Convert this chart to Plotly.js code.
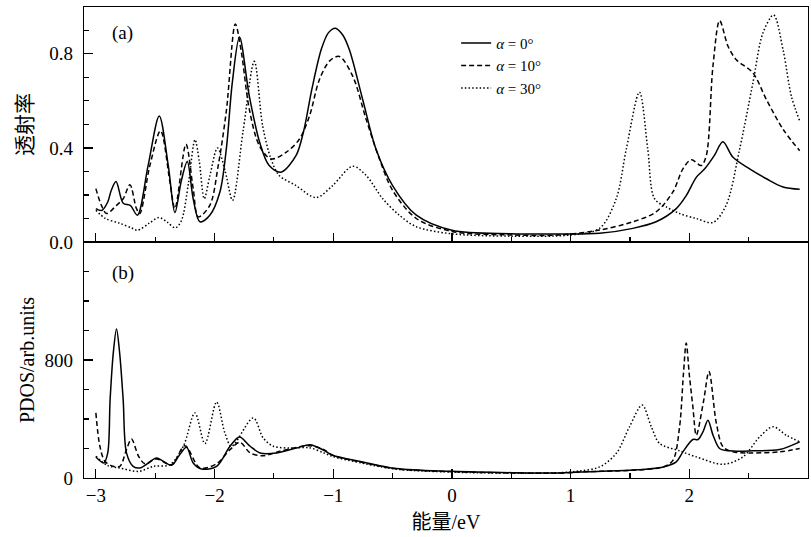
<!DOCTYPE html>
<html>
<head>
<meta charset="utf-8">
<script src="https://cdn.plot.ly/plotly-3.0.1.min.js"></script>
<style>html,body{margin:0;padding:0;background:#fff;}#chart{width:811px;height:537px;}</style>
</head>
<body>
<div id="chart"></div>
<script>
// ---- data ----
const seriesNames = ["<i>α</i> = 0°", "<i>α</i> = 10°", "<i>α</i> = 30°"];
const panelLabels = ["(a)", "(b)"];
const xTitle = "能量/eV";
const yTitleTop = "透射率";
const yTitleBottom = "PDOS/arb.units";

// (a) transmission, alpha = 0
const topE0 = [-3.00,-2.95,-2.90,-2.87,-2.83,-2.77,-2.71,-2.65,-2.56,-2.466,-2.39,-2.334,-2.28,-2.23,-2.18,-2.123,-2.04,-1.955,-1.90,-1.85,-1.79,-1.707,-1.62,-1.54,-1.44,-1.314,-1.25,-1.18,-1.10,-1.04,-0.982,-0.92,-0.864,-0.752,-0.64,-0.50,-0.30,0.00,0.50,0.90,1.244,1.524,1.72,1.89,1.975,2.06,2.13,2.21,2.283,2.368,2.508,2.65,2.79,2.93];
const topT0 = [0.142,0.134,0.17,0.22,0.257,0.165,0.156,0.114,0.325,0.536,0.325,0.125,0.26,0.342,0.184,0.086,0.114,0.213,0.40,0.68,0.871,0.62,0.424,0.325,0.297,0.367,0.47,0.65,0.82,0.89,0.909,0.88,0.817,0.606,0.395,0.24,0.114,0.05,0.035,0.034,0.037,0.058,0.086,0.142,0.198,0.276,0.311,0.367,0.426,0.36,0.311,0.269,0.234,0.224];
// (a) transmission, alpha = 10
const topE10 = [-3.00,-2.953,-2.91,-2.826,-2.77,-2.713,-2.658,-2.63,-2.545,-2.455,-2.376,-2.334,-2.241,-2.18,-2.137,-2.04,-1.969,-1.90,-1.825,-1.777,-1.707,-1.623,-1.524,-1.398,-1.286,-1.20,-1.117,-1.03,-0.949,-0.836,-0.723,-0.611,-0.499,-0.30,0.00,0.50,0.90,1.244,1.524,1.72,1.862,1.946,2.017,2.10,2.143,2.199,2.256,2.327,2.396,2.536,2.649,2.789,2.93];
const topT10 = [0.227,0.156,0.121,0.156,0.184,0.243,0.142,0.121,0.325,0.473,0.255,0.142,0.416,0.227,0.107,0.156,0.325,0.56,0.927,0.817,0.564,0.41,0.353,0.381,0.437,0.536,0.69,0.77,0.789,0.705,0.522,0.353,0.219,0.10,0.045,0.03,0.03,0.051,0.086,0.128,0.213,0.311,0.35,0.325,0.367,0.747,0.941,0.831,0.775,0.719,0.606,0.48,0.388];
// (a) transmission, alpha = 30
const topE30 = [-3.00,-2.92,-2.80,-2.70,-2.65,-2.55,-2.47,-2.40,-2.33,-2.28,-2.22,-2.165,-2.128,-2.087,-2.04,-1.975,-1.91,-1.848,-1.76,-1.665,-1.595,-1.524,-1.455,-1.314,-1.145,-1.005,-0.836,-0.723,-0.583,-0.443,-0.30,0.00,0.50,1.00,1.244,1.384,1.469,1.58,1.65,1.707,1.806,1.918,2.059,2.199,2.31,2.424,2.536,2.62,2.71,2.79,2.86,2.93];
const topT30 = [0.135,0.10,0.08,0.06,0.05,0.08,0.104,0.085,0.06,0.09,0.25,0.435,0.34,0.184,0.28,0.40,0.30,0.177,0.47,0.768,0.494,0.353,0.283,0.24,0.189,0.24,0.322,0.283,0.184,0.114,0.065,0.035,0.025,0.03,0.058,0.184,0.395,0.637,0.395,0.184,0.149,0.121,0.10,0.083,0.156,0.395,0.677,0.888,0.965,0.817,0.62,0.515];

// (b) PDOS, alpha = 0
const botE0 = [-3.00,-2.933,-2.90,-2.88,-2.853,-2.826,-2.80,-2.77,-2.742,-2.686,-2.629,-2.56,-2.489,-2.362,-2.30,-2.236,-2.18,-2.11,-1.983,-1.87,-1.79,-1.70,-1.617,-1.477,-1.31,-1.196,-1.08,-1.005,-0.752,-0.47,0.00,0.51,0.906,1.075,1.496,1.78,1.89,1.946,2.03,2.073,2.115,2.157,2.20,2.255,2.34,2.536,2.76,2.93];
const botP0 = [142,102,170,531,850,1010,850,531,170,79,68,100,136,86,150,208,102,61,79,215,278,215,170,170,203,226,188,154,109,64,45,36,34,41,52,75,109,177,261,261,313,392,290,200,184,184,193,245];
// (b) PDOS, alpha = 10
const botE10 = [-3.00,-2.966,-2.924,-2.854,-2.798,-2.742,-2.70,-2.64,-2.587,-2.489,-2.362,-2.25,-2.123,-1.983,-1.87,-1.786,-1.70,-1.59,-1.45,-1.20,-1.08,-1.005,-0.752,-0.47,0.00,0.51,0.906,1.075,1.78,1.862,1.918,1.95,1.974,2.00,2.03,2.059,2.12,2.166,2.228,2.284,2.368,2.53,2.76,2.93];
const botP10 = [441,215,113,79,79,192,264,147,97,129,90,219,68,97,192,242,170,151,181,219,192,154,105,62,43,34,33,41,75,120,347,700,914,700,483,290,520,721,370,211,177,170,177,200];
// (b) PDOS, alpha = 30
const botE30 = [-3.00,-2.90,-2.80,-2.64,-2.515,-2.376,-2.263,-2.165,-2.081,-1.983,-1.913,-1.857,-1.674,-1.59,-1.505,-1.35,-1.20,-1.08,-1.005,-0.752,-0.47,0.00,0.51,0.906,1.075,1.244,1.384,1.496,1.603,1.68,1.75,1.918,2.059,2.284,2.452,2.593,2.705,2.817,2.93];
const botP30 = [147,84,68,45,79,90,215,441,233,515,305,215,407,271,215,203,205,170,146,100,60,40,33,36,48,75,166,347,494,347,234,184,143,93,143,279,347,290,245];

// ---- styling ----
const FONT = "'Liberation Serif', 'Times New Roman', 'Noto Sans CJK SC', serif";
const dashes = ["solid", "5px,3px", "1.5px,2.2px"];
const LW = 1.5;

const traces = [];
const topX = [topE0, topE10, topE30], topY = [topT0, topT10, topT30];
const botX = [botE0, botE10, botE30], botY = [botP0, botP10, botP30];
for (let i = 0; i < 3; i++) {
  traces.push({x: topX[i], y: topY[i], type: 'scatter', mode: 'lines', name: seriesNames[i],
    xaxis: 'x2', yaxis: 'y',
    line: {color: '#000', width: LW, dash: dashes[i], shape: 'spline', smoothing: 0.9}});
}
for (let i = 0; i < 3; i++) {
  traces.push({x: botX[i], y: botY[i], type: 'scatter', mode: 'lines', name: seriesNames[i],
    xaxis: 'x', yaxis: 'y2', showlegend: false,
    line: {color: '#000', width: LW, dash: dashes[i], shape: 'spline', smoothing: 0.9}});
}

const minorTicks = (d) => ({dtick: d, tick0: 0, ticks: 'inside', ticklen: 5, tickcolor: '#000', tickwidth: 1.2});
const axCommon = {showline: true, linecolor: '#000', linewidth: 1.3, mirror: true,
  ticks: 'inside', tickcolor: '#000', tickwidth: 1.2, ticklen: 9, showgrid: false, zeroline: false,
  tickfont: {family: FONT, size: 19, color: '#000'}};

const layout = {
  width: 811, height: 537,
  margin: {l: 84, r: 3, t: 7, b: 59},
  paper_bgcolor: '#fff', plot_bgcolor: '#fff',
  font: {family: FONT, size: 18, color: '#000'},
  showlegend: true,
  legend: {x: 0.514, y: 0.958, xanchor: 'left', yanchor: 'top', bgcolor: 'rgba(0,0,0,0)',
    font: {family: FONT, size: 15, color: '#000'}, itemwidth: 30, tracegroupgap: 0},
  xaxis: Object.assign({}, axCommon, {anchor: 'y2', domain: [0, 1], range: [-3.1, 3.0],
    dtick: 1, tick0: 0, minor: minorTicks(0.5),
    title: {text: xTitle, font: {family: FONT, size: 20, color: '#000'}, standoff: 10}}),
  xaxis2: Object.assign({}, axCommon, {anchor: 'y', matches: 'x', range: [-3.1, 3.0], showticklabels: false,
    dtick: 1, tick0: 0, minor: minorTicks(0.5)}),
  yaxis: Object.assign({}, axCommon, {anchor: 'x2', domain: [0.501, 1], range: [0, 0.999],
    dtick: 0.4, tick0: 0, tickformat: '.1f', minor: minorTicks(0.1), ticklabelstandoff: 6,
    title: {text: yTitleTop, font: {family: FONT, size: 21, color: '#000'}}}),
  yaxis2: Object.assign({}, axCommon, {anchor: 'x', domain: [0, 0.501], range: [0, 1599],
    dtick: 800, tick0: 0, minor: minorTicks(200), ticklabelstandoff: 6,
    title: {text: yTitleBottom, font: {family: FONT, size: 20, color: '#000'}}}),
  annotations: [
    {text: panelLabels[0], xref: 'paper', yref: 'paper', x: (122 - 84) / 724, y: 1 - (33 - 7) / 471,
      xanchor: 'center', yanchor: 'middle', showarrow: false, font: {family: FONT, size: 19, color: '#000'}},
    {text: panelLabels[1], xref: 'paper', yref: 'paper', x: (123 - 84) / 724, y: 1 - (273 - 7) / 471,
      xanchor: 'center', yanchor: 'middle', showarrow: false, font: {family: FONT, size: 19, color: '#000'}}
  ]
};

Plotly.newPlot('chart', traces, layout, {displayModeBar: false, staticPlot: true});
</script>
</body>
</html>
